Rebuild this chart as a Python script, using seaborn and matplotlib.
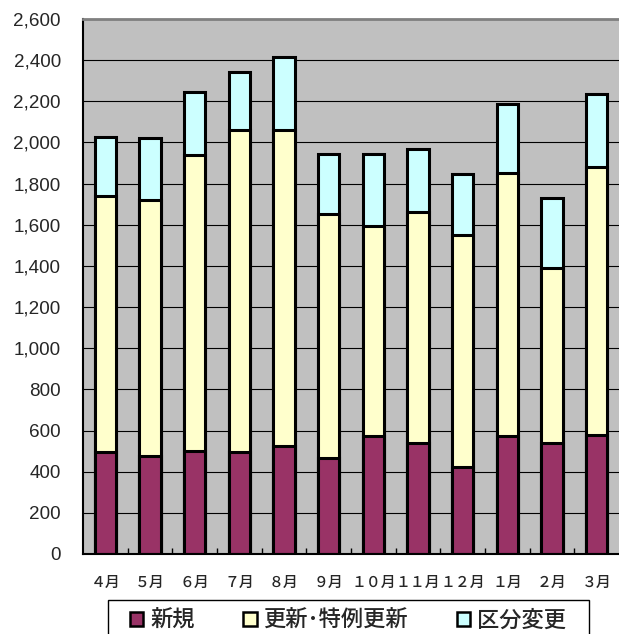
import matplotlib
matplotlib.use("Agg")
import matplotlib.pyplot as plt
from matplotlib.patches import Patch, Rectangle
from matplotlib.ticker import FuncFormatter, MultipleLocator, FixedLocator
import numpy as np
import pandas as pd
import seaborn as sns

# Monthly counts by application type
months = ["４月", "５月", "６月", "７月", "８月", "９月",
          "１０月", "１１月", "１２月", "１月", "２月", "３月"]
new_apps = [496, 476, 502, 496, 526, 468, 572, 539, 421, 572, 539, 577]
renewals = [1244, 1244, 1437, 1565, 1535, 1183, 1024, 1122, 1128, 1280, 849, 1302]
class_changes = [288, 300, 305, 282, 353, 292, 347, 306, 298, 335, 341, 357]
series_names = ["新規", "更新･特例更新", "区分変更"]
series_colors = ["#993366", "#FFFFCC", "#CCFFFF"]

df = pd.DataFrame({"month": months, "new": new_apps,
                   "renew": renewals, "change": class_changes})
df["lvl1"] = df["new"]
df["lvl2"] = df["new"] + df["renew"]
df["lvl3"] = df["lvl2"] + df["change"]

sns.set_theme(style="white")
plt.rcParams["font.family"] = ["Noto Sans CJK JP", "DejaVu Sans"]

W, H = 619, 634
fig = plt.figure(figsize=(W / 100, H / 100), dpi=100)
ax = fig.add_axes([83 / W, (H - 554) / H, (W - 83) / W, (554 - 19) / H])
ax.set_facecolor("#C0C0C0")

# Stacked bars: draw cumulative heights from the top segment down
for col, color in zip(["lvl3", "lvl2", "lvl1"], series_colors[::-1]):
    sns.barplot(data=df, x="month", y=col, order=months, color=color,
                saturation=1, width=0.48, edgecolor="black", linewidth=2.2,
                ax=ax)

ax.set_xlim(-0.5, len(months) - 0.5)
ax.set_ylim(0, 2600)
ax.yaxis.set_major_locator(MultipleLocator(200))
ax.yaxis.set_major_formatter(FuncFormatter(lambda v, p: f"{int(v):,}"))
ax.set_axisbelow(True)
ax.grid(axis="y", color="black", linewidth=0.8)
ax.grid(axis="x", visible=False)
ax.set_xlabel("")
ax.set_ylabel("")

ax.tick_params(axis="y", length=0, pad=16)
for lbl in ax.get_yticklabels():
    lbl.set_fontfamily("Liberation Sans")
    lbl.set_fontsize(13.6)
ax.tick_params(axis="x", which="major", length=0, pad=14, labelsize=10.7)
for lbl in ax.get_xticklabels():
    lbl.set_fontweight("medium")
ax.xaxis.set_minor_locator(FixedLocator(np.arange(0.5, len(months) - 1, 1.0)))
ax.tick_params(axis="x", which="minor", direction="in", length=4,
               width=1, color="black", bottom=True)

for side in ["left", "bottom"]:
    ax.spines[side].set_color("black")
    ax.spines[side].set_linewidth(1.5)
ax.spines["top"].set_color("#808080")
ax.spines["top"].set_linewidth(2)
ax.spines["right"].set_visible(False)

# Legend below the axes, in a plain box
handles = [Patch(facecolor=c, edgecolor="black", linewidth=1.8) for c in series_colors]
fig.legend(handles, series_names, loc="center left",
           bbox_to_anchor=(130 / W, 1 - 620 / H), ncol=3, frameon=False,
           prop={"size": 16, "weight": "medium"},
           handlelength=0.6, handleheight=0.6,
           handletextpad=0.3, columnspacing=2.2, borderpad=0,
           borderaxespad=0)
fig.add_artist(Rectangle((108 / W, -0.05), (589 - 108) / W, (634 - 600) / H + 0.05,
                         transform=fig.transFigure, fill=False,
                         edgecolor="black", linewidth=1))

fig.savefig("out.png", dpi=100)
